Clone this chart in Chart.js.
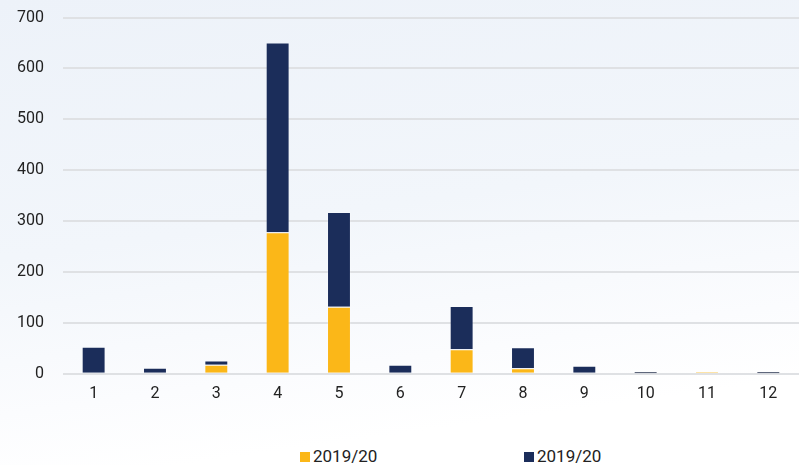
<!DOCTYPE html>
<html>
<head>
<meta charset="utf-8">
<script src="https://cdn.jsdelivr.net/npm/chart.js@4/dist/chart.umd.min.js"></script>
<style>
  html, body { margin: 0; padding: 0; }
  body {
    width: 799px; height: 465px; overflow: hidden; position: relative;
    background: linear-gradient(172deg, #edf2f9 0%, #f2f6fb 45%, #fbfcfe 72%, #ffffff 85%);
    font-family: Roboto, sans-serif;
  }
  #wrap { position: absolute; left: 0; top: -11px; width: 799px; height: 446px; }
  #legend { position: absolute; left: 0; top: 448px; width: 799px; height: 17px; font-size: 17px; color: #222; }
  .item { position: absolute; top: 0; line-height: 17px; white-space: nowrap; }
  .box { display: inline-block; width: 10px; height: 10px; margin-right: 3px; vertical-align: 0px; }
</style>
</head>
<body>
<div id="wrap"><canvas id="grafico"></canvas></div>
<div id="legend"></div>
<script>
// categorias y valores
const categorias = ['1', '2', '3', '4', '5', '6', '7', '8', '9', '10', '11', '12'];
const serieAmarilla = [2, 2, 18, 278, 132, 2, 48, 11, 0, 1, 4, 1];
const serieAzul = [51, 10, 8, 373, 186, 16, 85, 41, 16, 4, 0, 4];
const etiquetas = ['2019/20', '2019/20'];
const colores = ['#fbb718', '#1b2d5a'];
const ticksY = [0, 100, 200, 300, 400, 500, 600, 700];

const datos = {
  labels: categorias,
  datasets: [
    { label: etiquetas[0], data: serieAmarilla, backgroundColor: colores[0], borderColor: 'rgba(255,255,255,0.18)', borderWidth: 1 },
    { label: etiquetas[1], data: serieAzul, backgroundColor: colores[1], borderColor: 'rgba(255,255,255,0.18)', borderWidth: 1 }
  ]
};

const config = {
  type: 'bar',
  data: datos,
  options: {
    responsive: true,
    maintainAspectRatio: false,
    animation: false,
    layout: { padding: { left: -2, right: 0, top: 8, bottom: 20 } },
    datasets: { bar: { barPercentage: 0.39, categoryPercentage: 1 } },
    plugins: {
      legend: { display: false },
      tooltip: { enabled: false }
    },
    scales: {
      x: {
        stacked: true,
        grid: { display: false, drawTicks: false },
        border: { display: false },
        ticks: { padding: 11, color: '#222', font: { family: 'Roboto', size: 16 } }
      },
      y: {
        stacked: true,
        min: 0,
        max: 700,
        afterBuildTicks: (eje) => { eje.ticks = ticksY.map(v => ({ value: v })); },
        grid: { color: '#dfe1e4', lineWidth: 2, drawTicks: false },
        border: { display: false },
        ticks: { padding: 19, color: '#222', font: { family: 'Roboto', size: 16 } }
      }
    }
  }
};

const grafico = new Chart(document.getElementById('grafico'), config);

// leyenda en html para poder separar los elementos como en el original
const posiciones = [300, 524];
const leyenda = document.getElementById('legend');
etiquetas.forEach((txt, i) => {
  const el = document.createElement('div');
  el.className = 'item';
  el.style.left = posiciones[i] + 'px';
  el.innerHTML = '<span class="box" style="background:' + colores[i] + '"></span>' + txt;
  leyenda.appendChild(el);
});
</script>
</body>
</html>
